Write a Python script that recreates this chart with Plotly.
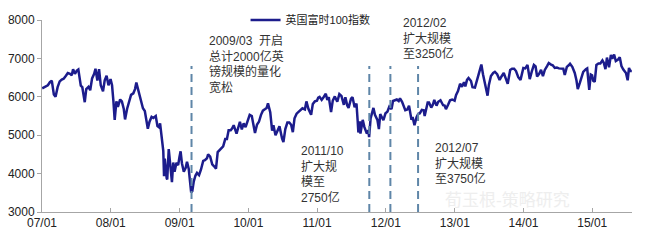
import plotly.graph_objects as go

# ---------------- data ----------------
d07 = ["2007-01-02","2007-01-12","2007-01-22","2007-02-01","2007-02-12","2007-02-22","2007-03-05","2007-03-14","2007-03-25",
       "2007-04-05","2007-04-16","2007-04-26","2007-05-08","2007-05-18","2007-05-30","2007-06-08","2007-06-15","2007-06-25",
       "2007-07-05","2007-07-13","2007-07-26","2007-08-03","2007-08-16","2007-08-24","2007-09-05","2007-09-14","2007-09-24",
       "2007-10-05","2007-10-12","2007-10-22","2007-10-31","2007-11-09","2007-11-21","2007-11-30","2007-12-10","2007-12-20","2007-12-31"]
v07 = [6220,6240,6280,6300,6380,6420,6060,6000,6250,
       6400,6450,6470,6550,6620,6600,6560,6720,6600,
       6680,6710,6290,6250,5860,6200,6260,6170,6480,
       6600,6730,6420,6720,6300,6140,6430,6550,6300,6460]

d08 = ["2008-01-08","2008-01-15","2008-01-22","2008-01-31","2008-02-08","2008-02-20","2008-02-29","2008-03-10","2008-03-17","2008-03-28",
       "2008-04-08","2008-04-18","2008-04-30","2008-05-09","2008-05-16","2008-05-29","2008-06-10","2008-06-20","2008-06-30",
       "2008-07-10","2008-07-16","2008-07-25","2008-08-05","2008-08-14","2008-08-27","2008-09-05","2008-09-15","2008-09-19","2008-09-29",
       "2008-10-06","2008-10-10","2008-10-14","2008-10-24","2008-10-27","2008-11-04","2008-11-12","2008-11-21","2008-11-28",
       "2008-12-05","2008-12-15","2008-12-24","2008-12-31"]
v08 = [6300,5900,5400,5880,5740,5930,5880,5690,5410,5690,
       5900,6050,6090,6200,6370,6090,5860,5700,5630,
       5400,5170,5350,5480,5450,5500,5240,5200,5310,4820,
       4590,3930,4390,3880,3850,4640,4180,3780,4290,
       4050,4280,4220,4430]

d09 = ["2009-01-06","2009-01-13","2009-01-23","2009-02-02","2009-02-09","2009-02-18","2009-02-24","2009-03-03","2009-03-09","2009-03-17","2009-03-26",
       "2009-04-03","2009-04-14","2009-04-24","2009-05-06","2009-05-15","2009-05-26","2009-06-01","2009-06-12","2009-06-23",
       "2009-07-03","2009-07-13","2009-07-22","2009-07-31","2009-08-10","2009-08-20","2009-08-31","2009-09-09","2009-09-18","2009-09-29",
       "2009-10-07","2009-10-15","2009-10-30","2009-11-10","2009-11-17","2009-11-27","2009-12-07","2009-12-17","2009-12-31"]
v09 = [4580,4270,4050,4150,4310,4130,3830,3510,3540,3800,3950,
       4020,3960,4100,4330,4350,4400,4500,4440,4240,
       4190,4130,4560,4610,4670,4710,4900,4900,5130,5130,
       5180,5260,5040,5240,5350,5150,5310,5210,5410]

d10 = ["2010-01-08","2010-01-19","2010-01-29","2010-02-05","2010-02-16","2010-02-26","2010-03-09","2010-03-19","2010-03-31",
       "2010-04-08","2010-04-15","2010-04-27","2010-05-07","2010-05-14","2010-05-25","2010-06-04","2010-06-15","2010-06-29",
       "2010-07-06","2010-07-16","2010-07-27","2010-08-06","2010-08-16","2010-08-25","2010-09-03","2010-09-14","2010-09-24",
       "2010-10-05","2010-10-15","2010-10-28","2010-11-05","2010-11-16","2010-11-30","2010-12-09","2010-12-20","2010-12-31"]
v10 = [5530,5500,5190,5060,5280,5350,5530,5640,5680,
       5710,5830,5600,5120,5260,5000,5130,5230,4910,
       4820,5160,5330,5330,5270,5080,5440,5560,5600,
       5640,5700,5670,5880,5680,5530,5810,5880,5900]

d11 = ["2011-01-07","2011-01-14","2011-01-25","2011-02-04","2011-02-16","2011-02-24","2011-03-04","2011-03-16","2011-03-25",
       "2011-04-05","2011-04-18","2011-04-29","2011-05-10","2011-05-23","2011-05-31","2011-06-10","2011-06-17","2011-06-30",
       "2011-07-08","2011-07-19","2011-07-29","2011-08-04","2011-08-08","2011-08-16","2011-08-19","2011-08-31","2011-09-09","2011-09-22","2011-09-30",
       "2011-10-04","2011-10-12","2011-10-27","2011-11-04","2011-11-17","2011-11-25","2011-12-02","2011-12-12","2011-12-19","2011-12-30"]
v11 = [5980,6000,5920,5990,6080,5920,5990,5600,5900,
       6010,5870,6070,6020,5790,5990,5770,5710,5950,
       5990,5730,5820,5390,5070,5360,5040,5400,5210,5040,5130,
       4950,5440,5710,5530,5400,5160,5550,5430,5390,5570]

d12 = ["2012-01-09","2012-01-19","2012-01-31","2012-02-08","2012-02-17","2012-02-28","2012-03-09","2012-03-16","2012-03-27",
       "2012-04-05","2012-04-13","2012-04-24","2012-05-03","2012-05-16","2012-05-22","2012-06-01","2012-06-12","2012-06-21","2012-06-29",
       "2012-07-10","2012-07-20","2012-07-25","2012-07-31","2012-08-10","2012-08-17","2012-08-29","2012-09-07","2012-09-14","2012-09-26",
       "2012-10-05","2012-10-17","2012-10-31","2012-11-08","2012-11-15","2012-11-27","2012-12-07","2012-12-18","2012-12-31"]
v12 = [5610,5740,5680,5890,5900,5930,5890,5960,5870,
       5720,5650,5670,5770,5400,5470,5260,5470,5560,5570,
       5660,5650,5500,5640,5850,5850,5720,5800,5920,5770,
       5870,5910,5780,5770,5680,5800,5910,5930,5900]

d13 = ["2013-01-08","2013-01-18","2013-01-29","2013-02-08","2013-02-19","2013-02-26","2013-03-07","2013-03-15","2013-03-28",
       "2013-04-05","2013-04-18","2013-04-30","2013-05-09","2013-05-22","2013-05-31","2013-06-07","2013-06-14","2013-06-24",
       "2013-07-01","2013-07-12","2013-07-24","2013-08-02","2013-08-14","2013-08-27","2013-09-06","2013-09-18","2013-09-30",
       "2013-10-09","2013-10-22","2013-11-01","2013-11-12","2013-11-22","2013-12-04","2013-12-16","2013-12-31"]
v13 = [6050,6150,6340,6260,6380,6270,6440,6490,6410,
       6250,6240,6430,6590,6840,6580,6410,6310,6030,
       6310,6540,6620,6650,6590,6440,6530,6620,6460,
       6340,6700,6730,6730,6670,6510,6440,6750]

d14 = ["2014-01-10","2014-01-22","2014-02-03","2014-02-14","2014-02-25","2014-03-06","2014-03-14","2014-03-25",
       "2014-04-04","2014-04-14","2014-04-24","2014-05-06","2014-05-15","2014-05-27","2014-06-05","2014-06-16","2014-06-27",
       "2014-07-08","2014-07-17","2014-07-31","2014-08-08","2014-08-19","2014-08-29","2014-09-05","2014-09-17","2014-09-30",
       "2014-10-09","2014-10-16","2014-10-27","2014-11-05","2014-11-14","2014-11-28","2014-12-05","2014-12-16","2014-12-24","2014-12-31"]
v14 = [6740,6830,6460,6660,6830,6790,6530,6600,
       6700,6540,6700,6800,6880,6840,6820,6750,6760,
       6740,6740,6730,6570,6780,6820,6860,6780,6620,
       6430,6200,6360,6540,6650,6720,6740,6180,6580,6560]

d15 = ["2015-01-06","2015-01-14","2015-01-23","2015-02-03","2015-02-13","2015-02-24","2015-03-03","2015-03-12","2015-03-20","2015-03-31",
       "2015-04-10","2015-04-17","2015-04-27","2015-05-06","2015-05-18","2015-05-27","2015-06-05","2015-06-15","2015-06-29",
       "2015-07-08","2015-07-15","2015-07-22","2015-07-30"]
v15 = [6420,6390,6830,6870,6870,6950,6890,6720,7020,6770,
       7090,6990,7100,6930,6970,7030,6800,6710,6620,
       6430,6750,6670,6670]

series_name = "英国富时100指数"

qe_dates = ["2009-03-05", "2011-10-05", "2012-01-25", "2012-06-20"]
qe_top = 6800
qe_texts = [
    "2009/03  开启<br>总计2000亿英<br>镑规模的量化<br>宽松",
    "2011/10<br>扩大规<br>模至<br>2750亿",
    "2012/02<br>扩大规模<br>至3250亿",
    "2012/07<br>扩大规模<br>至3750亿",
]

x_range = ["2007-01-01", "2015-07-31"]
y_range = [3000, 8000]

# ---------------- figure ----------------
dates = d07 + d08 + d09 + d10 + d11 + d12 + d13 + d14 + d15
values = v07 + v08 + v09 + v10 + v11 + v12 + v13 + v14 + v15
assert len(dates) == len(values)

FONT = "Liberation Sans, Arial, Noto Sans CJK SC, sans-serif"

fig = go.Figure()
fig.add_trace(go.Scatter(
    x=dates, y=values, mode="lines", name=series_name,
    line=dict(color="#1c1c8c", width=2.5),
))

for d in qe_dates:
    fig.add_trace(go.Scatter(
        x=[d, d], y=[y_range[0], qe_top], mode="lines", showlegend=False,
        line=dict(color="#5f86a8", width=2, dash="8px,5px"), hoverinfo="skip",
    ))

# text positions in paper coordinates
text_pos = [(0.2797, 0.94), (0.4356, 0.367), (0.6085, 1.03), (0.6627, 0.378)]
for (px, py), t in zip(text_pos, qe_texts):
    fig.add_annotation(
        x=px, y=py, xref="paper", yref="paper", text=t, showarrow=False,
        xanchor="left", yanchor="top", align="left",
        font=dict(family=FONT, size=12, color="#333333"),
    )

# watermark
fig.add_annotation(
    x=0.68, y=0.06, xref="paper", yref="paper", text="荀玉根-策略研究", showarrow=False,
    xanchor="left", yanchor="middle",
    font=dict(family=FONT, size=17, color="#eeeeee"),
)

fig.update_layout(
    width=647, height=248,
    margin=dict(l=42, r=15, t=20, b=36, autoexpand=False),
    paper_bgcolor="white", plot_bgcolor="white",
    font=dict(family=FONT, size=12, color="#222222"),
    showlegend=True,
    legend=dict(x=0.345, y=1.0, xanchor="left", yanchor="middle",
                bgcolor="rgba(0,0,0,0)", font=dict(size=11, color="#222222"),
                itemwidth=30),
)
fig.update_xaxes(
    type="date", range=x_range, dtick="M12", tick0="2007-01-01", tickformat="%y/%m",
    showgrid=False, zeroline=False, showline=True, linecolor="#a6a6a6", linewidth=1,
    ticks="inside", ticklen=4, tickcolor="#a6a6a6",
    tickfont=dict(size=12, color="#222222"),
)
fig.update_yaxes(
    range=y_range, dtick=1000, tick0=3000,
    showgrid=False, zeroline=False, showline=True, linecolor="#a6a6a6", linewidth=1,
    ticks="outside", ticklen=4, tickcolor="#a6a6a6",
    tickfont=dict(size=12, color="#222222"),
)

fig.write_html("out.html")
